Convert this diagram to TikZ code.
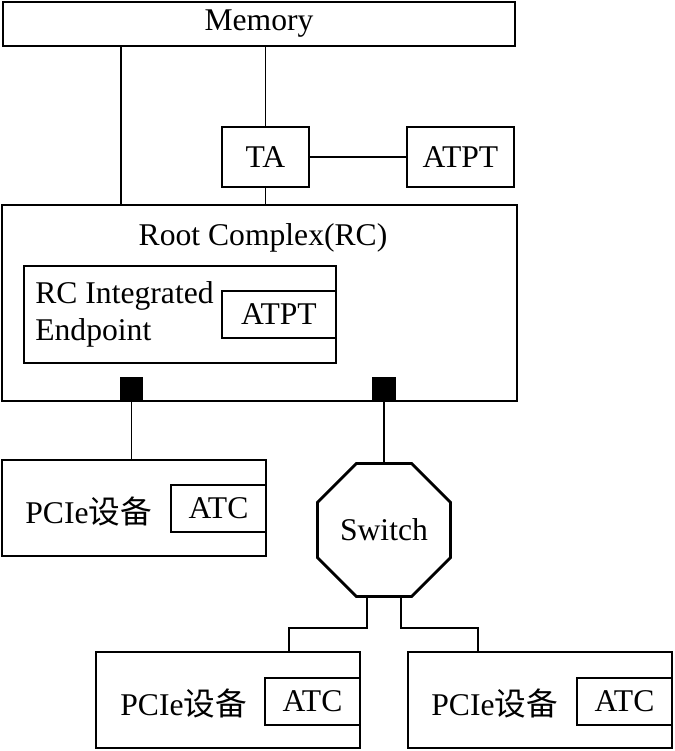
\documentclass[tikz,border=0pt]{standalone}
\usepackage{fontspec}
\setmainfont{Liberation Serif}
\newfontfamily\cjk{Noto Sans CJK SC}
\usetikzlibrary{calc,positioning,shapes.geometric}

\tikzset{
	box/.style={draw, line width=1.6pt, inner sep=0pt},
	subbox/.style={draw, line width=1.1pt, inner sep=0pt},
	port/.style={fill=black, inner sep=0pt, minimum size=0.48cm},
	wire/.style={line width=1pt},
}

\begin{document}
\begin{tikzpicture}[x=0.02cm, y=-0.02cm, font=\fontsize{18}{21}\selectfont]
	\useasboundingbox (0,0) rectangle (674,751);

	\node[box, minimum width=10.24cm, minimum height=0.88cm] (mem) at (259,24) {Memory};
	\node[box, minimum width=1.74cm, minimum height=1.2cm] (ta) at (265.5,157) {TA};
	\node[box, minimum width=2.14cm, minimum height=1.2cm] (atpt) at (460.5,157) {ATPT};

	\node[box, minimum width=10.3cm, minimum height=3.92cm] (rc) at (259.5,303) {};
	\node (rclabel) at (263,238) {Root Complex(RC)};
	\node[box, minimum width=6.24cm, minimum height=1.94cm] (rcie) at (180,314.5) {};
	\node[anchor=west, align=left, inner sep=0pt] (rcietext) at (35,314) {RC Integrated\\Endpoint};
	\node[subbox, minimum width=2.28cm, minimum height=0.94cm] (rcatpt) at (279,314.5) {ATPT};
	\node[port] (port1) at (131.5,389) {};
	\node[port] (port2) at (384,389) {};

	\node[box, minimum width=5.28cm, minimum height=1.92cm] (dev1) at (134,508) {};
	\node[subbox, minimum width=1.9cm, minimum height=0.94cm] (atc1) at (218.5,508.5) {ATC};
	\node[anchor=west, inner sep=0pt] (dev1text) at (25,511) {PCIe{\cjk 设备}};

	\node[box, regular polygon, regular polygon sides=8, minimum size=2.88cm] (sw) at (384,530) {Switch};

	\node[box, minimum width=5.28cm, minimum height=1.92cm] (dev2) at (228,700) {};
	\node[subbox, minimum width=1.9cm, minimum height=0.94cm] (atc2) at (312.5,701.5) {ATC};
	\node[anchor=west, inner sep=0pt] (dev2text) at (120,703) {PCIe{\cjk 设备}};

	\node[box, minimum width=5.28cm, minimum height=1.92cm] (dev3) at (540,700) {};
	\node[subbox, minimum width=1.9cm, minimum height=0.94cm] (atc3) at (624.5,701.5) {ATC};
	\node[anchor=west, inner sep=0pt] (dev3text) at (431,703) {PCIe{\cjk 设备}};

	\draw[wire] (mem.south -| 121,0) -- (rc.north -| 121,0);
	\draw[wire] (mem.south -| ta.north) -- (ta.north);
	\draw[wire] (ta.south) -- (ta.south |- rc.north);
	\draw[wire] (ta) -- (atpt);
	\draw[wire] (port1.south) -- (port1.south |- dev1.north);
	\draw[wire] (port2.south) -- (sw.north);
	\draw[wire] ($(sw.south)+(-17,0)$) -- ++(0,30) -| ($(dev2.north west)+(194,0)$);
	\draw[wire] ($(sw.south)+(17,0)$) -- ++(0,30) -| ($(dev3.north west)+(71,0)$);
\end{tikzpicture}
\end{document}
